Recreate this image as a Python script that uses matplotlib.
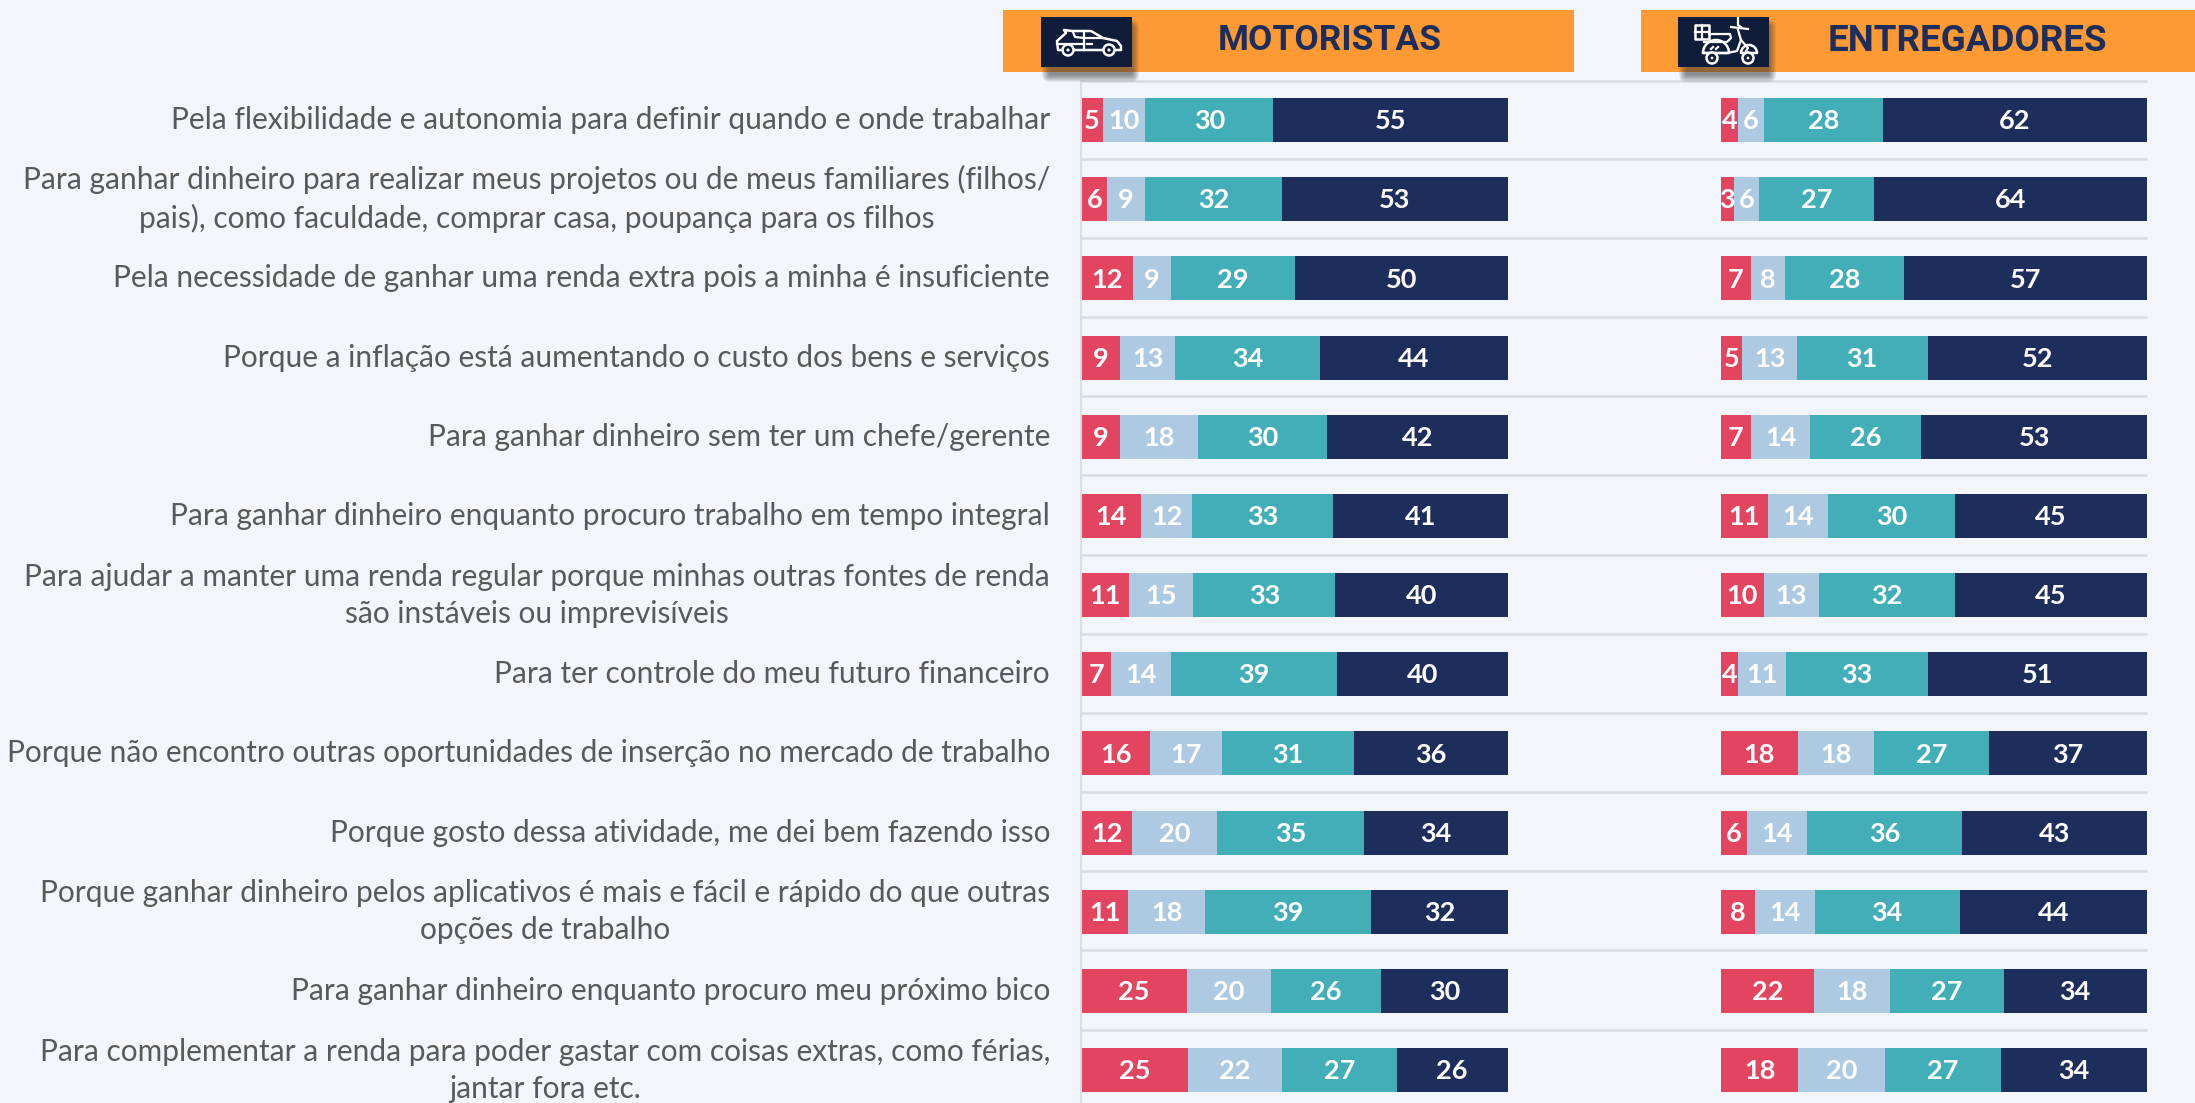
import matplotlib
matplotlib.use('Agg')
import matplotlib.pyplot as plt
from matplotlib.patches import Rectangle, Circle, Polygon, FancyBboxPatch, Wedge
import numpy as np

W, H = 2195, 1103

labels = [
    'Pela flexibilidade e autonomia para definir quando e onde trabalhar',
    'Para ganhar dinheiro para realizar meus projetos ou de meus familiares (filhos/\npais), como faculdade, comprar casa, poupança para os filhos',
    'Pela necessidade de ganhar uma renda extra pois a minha é insuficiente',
    'Porque a inflação está aumentando o custo dos bens e serviços',
    'Para ganhar dinheiro sem ter um chefe/gerente',
    'Para ganhar dinheiro enquanto procuro trabalho em tempo integral',
    'Para ajudar a manter uma renda regular porque minhas outras fontes de renda\nsão instáveis ou imprevisíveis',
    'Para ter controle do meu futuro financeiro',
    'Porque não encontro outras oportunidades de inserção no mercado de trabalho',
    'Porque gosto dessa atividade, me dei bem fazendo isso',
    'Porque ganhar dinheiro pelos aplicativos é mais e fácil e rápido do que outras\nopções de trabalho',
    'Para ganhar dinheiro enquanto procuro meu próximo bico',
    'Para complementar a renda para poder gastar com coisas extras, como férias,\njantar fora etc.',
]

motoristas = [
    [5, 10, 30, 55], [6, 9, 32, 53], [12, 9, 29, 50], [9, 13, 34, 44],
    [9, 18, 30, 42], [14, 12, 33, 41], [11, 15, 33, 40], [7, 14, 39, 40],
    [16, 17, 31, 36], [12, 20, 35, 34], [11, 18, 39, 32], [25, 20, 26, 30],
    [25, 22, 27, 26],
]
entregadores = [
    [4, 6, 28, 62], [3, 6, 27, 64], [7, 8, 28, 57], [5, 13, 31, 52],
    [7, 14, 26, 53], [11, 14, 30, 45], [10, 13, 32, 45], [4, 11, 33, 51],
    [18, 18, 27, 37], [6, 14, 36, 43], [8, 14, 34, 44], [22, 18, 27, 34],
    [18, 20, 27, 34],
]
colors = ['#E3445F', '#AECAE2', '#42AEB8', '#1E2E5C']

BG = '#F2F5FA'
TILE = '#101D3A'
ROW = 79.17
TOP = 80.5
FIRST = 120


def px_axes(fig, x0, x1, y0=TOP, y1=H):
    return fig.add_axes([x0 / W, 1 - y1 / H, (x1 - x0) / W, (y1 - y0) / H])


def draw_bars(ax, rows):
    data = np.array(rows, dtype=float)
    # the bars all end at the same place, rounded labels do not always sum to 100
    shares = data / data.sum(axis=1, keepdims=True) * 100
    y = np.arange(len(rows))
    left = np.zeros(len(rows))
    for j, c in enumerate(colors):
        ax.barh(y, shares[:, j], left=left, height=0.556, color=c, linewidth=0, zorder=3)
        for i in y:
            ax.text(left[i] + shares[i, j] / 2, i + 0.015, str(rows[i][j]), ha='center', va='center',
                    color='white', fontsize=19.5, fontweight='bold', family='Lato', zorder=4)
        left += shares[:, j]
    ax.set_xlim(0, 100)
    ax.set_ylim((H - FIRST) / ROW, (TOP - FIRST) / ROW)
    ax.axis('off')


fig = plt.figure(figsize=(W / 100, H / 100), dpi=100, facecolor=BG)

# background layer in pixels: separators, axis line, header bands
bg = fig.add_axes([0, 0, 1, 1])
bg.set_xlim(0, W)
bg.set_ylim(H, 0)
bg.axis('off')

for i in range(len(labels) + 1):
    yy = TOP + i * ROW - (1 if i else 0)
    bg.plot([1081, 2147], [yy, yy], color='#DADCDF', lw=1.8, zorder=1, solid_capstyle='butt')
bg.plot([1081, 1081], [TOP, H], color='#D9DEE3', lw=1.5, zorder=1)


def header(x0, x1, box_x, title, title_x, size):
    # shadow of the tile also falls on the background below the band
    bg.add_patch(Rectangle((x0, 10), x1 - x0, 62, color='#FE9A34', lw=0, zorder=2))
    for k in range(8):
        bg.add_patch(FancyBboxPatch((box_x + 8 - k, 27 - k), 83 + 2 * k, 48 + 2 * k,
                                    boxstyle='round,pad=0,rounding_size=%d' % (k + 1),
                                    fc='#3A3A3A', ec='none', alpha=0.09, zorder=2.5))
    bg.add_patch(Rectangle((box_x, 17), 91, 50, color=TILE, lw=0, zorder=3))
    bg.text(title_x, 41, title, ha='center', va='center', color='#1E2E5C', fontsize=size,
            fontweight='bold', family='Roboto', zorder=3)


header(1003, 1574, 1041, 'MOTORISTAS', 1330, 25.5)
header(1641, W, 1678, 'ENTREGADORES', 1967, 26.5)

# car icon
ic = dict(fc='none', ec='white', lw=1.8, zorder=4, joinstyle='round')
line = dict(color='white', lw=1.6, zorder=4)
bg.add_patch(Polygon([(1058, 50), (1057, 41), (1066, 33), (1064, 30), (1072, 31), (1091, 31),
                      (1103, 38), (1117, 41), (1121, 46), (1121, 50)], closed=True, **ic))
bg.plot([1073, 1075, 1084, 1103], [32, 37, 38, 38], **line)
bg.plot([1084, 1084], [31, 50], **line)
bg.plot([1057, 1084], [44, 44], **line)
bg.plot([1087, 1092], [43.5, 43.5], **line)
for cx in (1068, 1109):
    bg.add_patch(Circle((cx, 50), 5.5, fc=TILE, ec='white', lw=1.8, zorder=5))
    bg.add_patch(Circle((cx, 50), 1.6, fc='white', ec='none', zorder=6))

# scooter icon
bg.add_patch(Rectangle((1695, 25), 14, 14, **ic))
bg.plot([1695, 1709], [32, 32], **line)
bg.plot([1702, 1702], [25, 39], **line)
bg.plot([1709, 1730, 1731, 1727, 1704], [34, 34, 38, 42, 42], **line)
bg.add_patch(Wedge((1716, 53), 13, 180, 360, width=None, **ic))
bg.plot([1703, 1727, 1737, 1741, 1738], [53, 53, 51, 40, 30], **line)
bg.plot([1741, 1748, 1746], [40, 48, 51], **line)
bg.add_patch(Wedge((1749, 53), 8, 180, 360, **ic))
bg.plot([1738, 1738, 1741], [18, 25, 27], **line)
bg.plot([1731, 1748], [27, 29], **line)
bg.plot([1711, 1713], [49, 47], **line)
bg.plot([1716, 1718], [49, 47], **line)
for cx, cy in ((1712, 58), (1748, 58)):
    bg.add_patch(Circle((cx, cy), 5.5, fc=TILE, ec='white', lw=1.8, zorder=5))
    bg.add_patch(Circle((cx, cy), 1.4, fc='white', ec='none', zorder=6))

left_ax = px_axes(fig, 1081.5, 1507.6)
right_ax = px_axes(fig, 1721, 2147)
draw_bars(left_ax, motoristas)
draw_bars(right_ax, entregadores)

# category labels, right aligned against the axis
for i, lab in enumerate(labels):
    fig.text(1050 / W, 1 - (FIRST + i * ROW) / H, lab, ha='right', va='center',
             multialignment='center', color='#595959', fontsize=21.5, family='Lato',
             linespacing=1.39)

fig.savefig('out.png', dpi=100, facecolor=BG)
